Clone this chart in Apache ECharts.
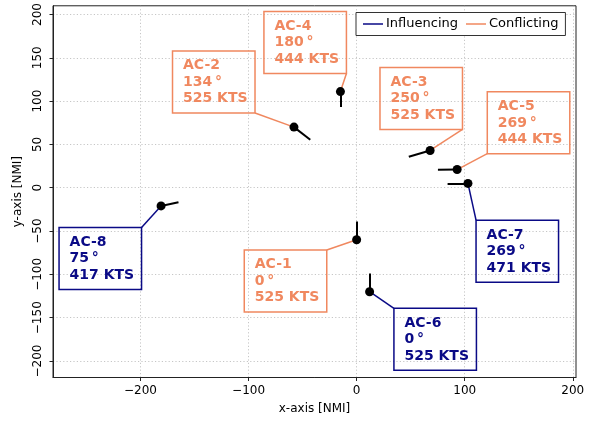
<!DOCTYPE html>
<html>
<head>
<meta charset="utf-8">
<script src="https://cdn.jsdelivr.net/npm/echarts@6/dist/echarts.min.js"></script>
<style>
  html, body { margin: 0; padding: 0; background: #fff; }
  #chart { width: 602px; height: 423px; }
</style>
</head>
<body>
<div id="chart"></div>
<script>
// ---- data ----
const names    = ['AC-1', 'AC-2', 'AC-3', 'AC-4', 'AC-5', 'AC-6', 'AC-7', 'AC-8'];
const xs       = [0, -58, 68, -15, 93, 12, 103, -181];
const ys       = [-60, 70, 43, 111, 21, -120, 5, -21];
const headings = [0, 134, 250, 180, 269, 0, 269, 75];
const speeds   = [525, 525, 525, 444, 444, 525, 471, 417];
const groups   = ['Conflicting', 'Conflicting', 'Conflicting', 'Conflicting', 'Conflicting',
                  'Influencing', 'Influencing', 'Influencing'];
// annotation box anchors (top-left corner, data units)
const labelX   = [-104, -170.4, 21.6, -85.8, 120.9, 34.5, 110.5, -275.4];
const labelY   = [-71.8, 157.9, 138.8, 203.4, 110.9, -139.1, -37.4, -45.9];
const xTicks   = [-200, -100, 0, 100, 200];
const yTicks   = [-200, -150, -100, -50, 0, 50, 100, 150, 200];
const legendNames = ['Influencing', 'Conflicting'];
// velocity vector: distance covered in 2.4 minutes (speed / 25 NM)
const vectorHours = 0.04;

const COLORS = { Influencing: '#0a0a86', Conflicting: '#f0885f' };
const FONT = '"DejaVu Sans", sans-serif';

function fmt(v) { return v < 0 ? '\u2212' + (-v) : String(v); }

function renderAnno(params, api) {
  const p = api.coord([api.value(0), api.value(1)]);
  const b = api.coord([api.value(2), api.value(3)]);
  const W = 82.5, H = 62;
  const corners = [[b[0], b[1]], [b[0] + W, b[1]], [b[0], b[1] + H], [b[0] + W, b[1] + H]];
  let best = corners[0], bd = Infinity;
  corners.forEach(c => {
    const d = (c[0] - p[0]) ** 2 + (c[1] - p[1]) ** 2;
    if (d < bd) { bd = d; best = c; }
  });
  const color = api.visual('color');
  return {
    type: 'group',
    children: [
      { type: 'line', shape: { x1: best[0], y1: best[1], x2: p[0], y2: p[1] },
        style: { stroke: color, lineWidth: 1.5 } },
      { type: 'rect', shape: { x: b[0], y: b[1], width: W, height: H },
        style: { fill: 'none', stroke: color, lineWidth: 1.5 } },
      { type: 'text',
        style: {
          text: api.value(6),
          x: b[0] + 10.5, y: b[1] + 6.5,
          font: 'bold 14px ' + FONT, fill: color,
          lineHeight: 16.5, verticalAlign: 'top', align: 'left'
        } }
    ]
  };
}

function makeAnnoSeries(group) {
  const data = [];
  names.forEach((n, i) => {
    if (groups[i] !== group) return;
    const text = n + '\n' + headings[i] + '\u2009\u00b0\n' + speeds[i] + ' KTS';
    data.push({ name: n, value: [xs[i], ys[i], labelX[i], labelY[i], headings[i], speeds[i], text] });
  });
  return {
    type: 'custom',
    name: group,
    coordinateSystem: 'cartesian2d',
    encode: { x: 0, y: 1 },
    dimensions: ['x', 'y', 'lx', 'ly', 'hdg', 'spd', { name: 'txt', type: 'ordinal' }],
    itemStyle: { color: COLORS[group] },
    renderItem: renderAnno,
    data: data,
    z: 2,
    silent: true,
    clip: false
  };
}

const vectorData = names.map((n, i) => {
  const L = speeds[i] * vectorHours;
  const r = headings[i] * Math.PI / 180;
  return { coords: [[xs[i], ys[i]], [xs[i] + L * Math.sin(r), ys[i] + L * Math.cos(r)]] };
});

const chart = echarts.init(document.getElementById('chart'), null, { renderer: 'canvas' });
const lineIcon = 'path://M0,0 L20,0 L20,1.5 L0,1.5 Z';

chart.setOption({
  animation: false,
  backgroundColor: '#fff',
  textStyle: { fontFamily: FONT },
  grid: {
    left: 53, top: 3.5, width: 523, height: 374,
    show: true, borderColor: '#222', borderWidth: 1, backgroundColor: 'transparent'
  },
  legend: {
    data: legendNames.map(n => ({ name: n, icon: lineIcon })),
    left: 356, top: 12.5,
    orient: 'horizontal',
    itemWidth: 20, itemHeight: 14, itemGap: 8,
    padding: [5, 7, 5, 7],
    backgroundColor: '#fff',
    borderColor: '#333', borderWidth: 1, borderRadius: 0,
    textStyle: { fontFamily: FONT, fontSize: 13, color: '#000', padding: [0, 0, 0, -2] },
    selectedMode: false
  },
  xAxis: {
    type: 'value', min: -281, max: 203,
    name: 'x-axis [NMI]', nameLocation: 'middle', nameGap: 25,
    nameTextStyle: { fontFamily: FONT, fontSize: 12, color: '#000' },
    axisLine: { show: true, onZero: false, lineStyle: { color: '#222', width: 1 } },
    axisTick: { show: true, inside: false, length: 3.5, lineStyle: { color: '#222' }, customValues: xTicks },
    axisLabel: { fontFamily: FONT, fontSize: 12, color: '#000', margin: 7, customValues: xTicks, formatter: fmt },
    splitLine: { show: true, lineStyle: { color: '#b8b8b8', width: 0.8, type: [1.2, 2.2] } }
  },
  yAxis: {
    type: 'value', min: -219, max: 210,
    name: 'y-axis [NMI]', nameLocation: 'middle', nameGap: 27, nameRotate: 90,
    nameTextStyle: { fontFamily: FONT, fontSize: 12, color: '#000' },
    axisLine: { show: true, onZero: false, lineStyle: { color: '#222', width: 1 } },
    axisTick: { show: true, inside: false, length: 3.5, lineStyle: { color: '#222' }, customValues: yTicks },
    axisLabel: { fontFamily: FONT, fontSize: 12, color: '#000', margin: 9, rotate: 90, customValues: yTicks, formatter: fmt },
    splitLine: { show: true, lineStyle: { color: '#b8b8b8', width: 0.8, type: [1.2, 2.2] } }
  },
  series: [
    makeAnnoSeries('Influencing'),
    makeAnnoSeries('Conflicting'),
    {
      type: 'lines', name: 'vectors', coordinateSystem: 'cartesian2d',
      data: vectorData, lineStyle: { color: '#000', width: 2, opacity: 1 },
      z: 3, silent: true
    },
    {
      type: 'scatter', name: 'aircraft',
      data: names.map((n, i) => ({ name: n, value: [xs[i], ys[i]] })),
      symbol: 'circle', symbolSize: 9,
      itemStyle: { color: '#000', opacity: 1 },
      z: 4, silent: true
    }
  ]
});
</script>
</body>
</html>
